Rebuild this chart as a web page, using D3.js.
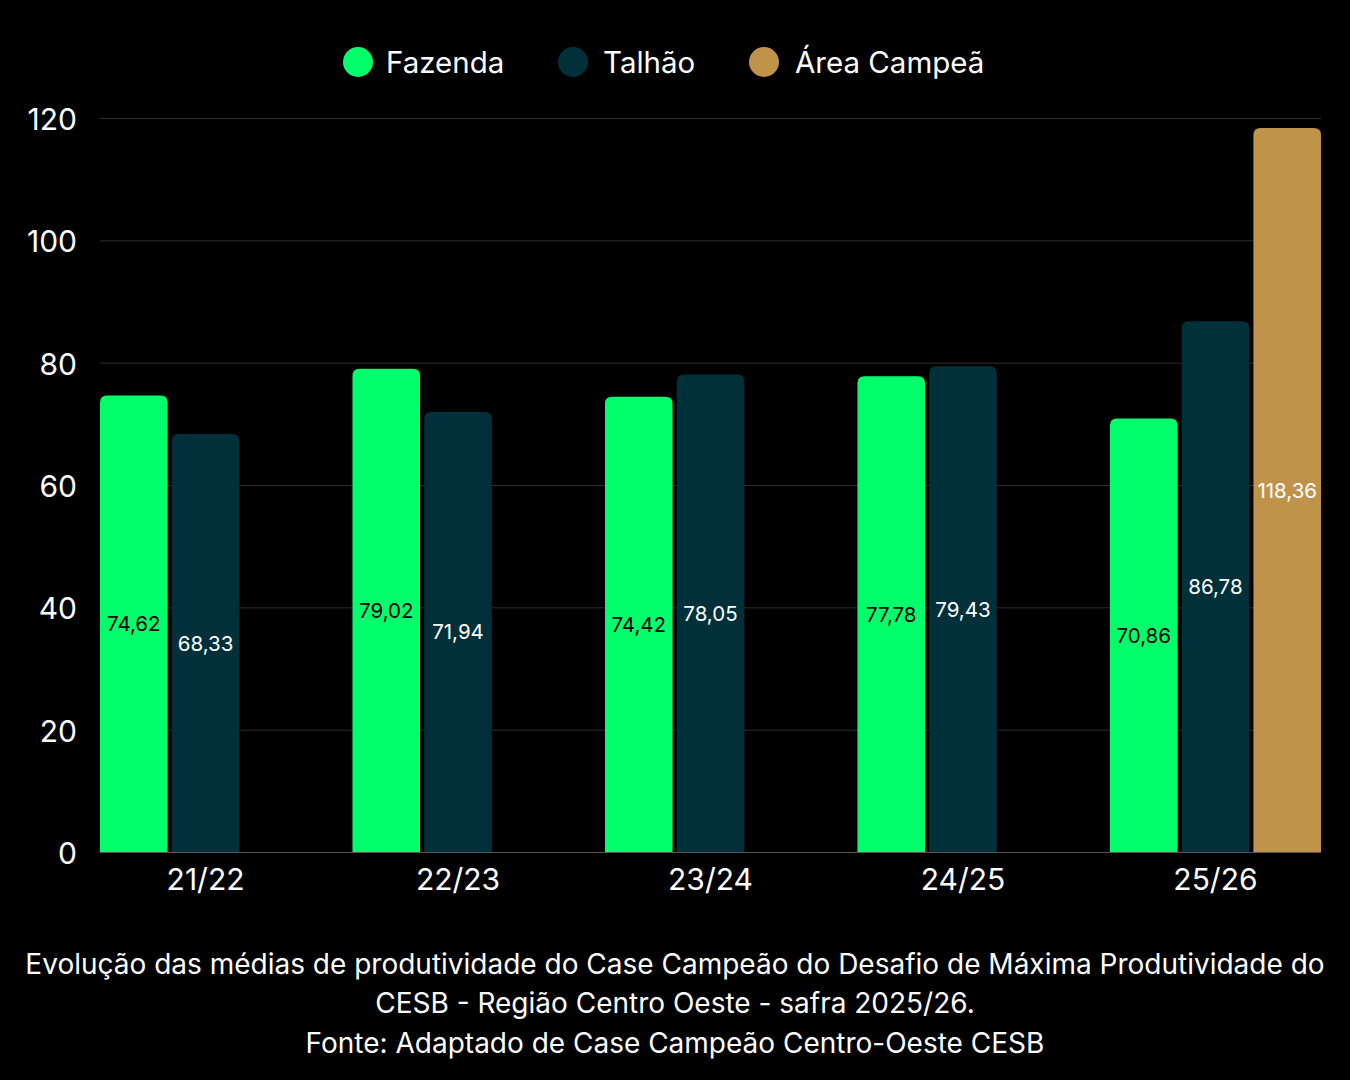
<!DOCTYPE html>
<html><head><meta charset="utf-8">
<script src="https://cdn.jsdelivr.net/npm/d3@7"></script>
<style>
html,body{margin:0;padding:0;background:#000;}
svg{display:block;font-family:Inter, "Noto Sans", sans-serif;}
</style></head>
<body>
<svg id="chart" width="1350" height="1080"></svg>
<script>
const categories = ["21/22","22/23","23/24","24/25","25/26"];
const seriesNames = ["Fazenda","Talhão","Área Campeã"];
const fazenda = [74.62, 79.02, 74.42, 77.78, 70.86];
const talhao = [68.33, 71.94, 78.05, 79.43, 86.78];
const areaCampea = [null, null, null, null, 118.36];
const yTicks = [0,20,40,60,80,100,120];
const captionLines = [
  "Evolução das médias de produtividade do Case Campeão do Desafio de Máxima Produtividade do",
  "CESB - Região Centro Oeste - safra 2025/26.",
  "Fonte: Adaptado de Case Campeão Centro-Oeste CESB"
];
const colors = ["#00ff6a", "#00313b", "#bf944a"];
const labelColors = ["#000000", "#ffffff", "#ffffff"];
const seriesValues = [fazenda, talhao, areaCampea];

(function(){
const svg = d3.select("#chart");
const pLeft = 100, pRight = 1321, pTop = 118, pBottom = 852;

const x0 = d3.scaleBand().domain(categories).range([pLeft, pRight]).paddingInner(0.164).paddingOuter(0);
const x1 = d3.scaleBand().domain(seriesNames).range([0, x0.bandwidth()]).paddingInner(0.058);
const y = d3.scaleLinear().domain([0,120]).range([pBottom, pTop]);

// grid
const grid = svg.append("g");
grid.selectAll("line").data(yTicks).join("line")
  .attr("x1", pLeft).attr("x2", pRight)
  .attr("y1", d=>y(d)+0.5).attr("y2", d=>y(d)+0.5)
  .attr("stroke", d=> d===0 ? "#555" : "#2e2e2e").attr("stroke-width", 1);

// y axis
const yAxis = svg.append("g").attr("transform", `translate(${pLeft},0)`)
  .call(d3.axisLeft(y).tickValues(yTicks).tickSize(0).tickPadding(23).tickFormat(d3.format("d")));
yAxis.select(".domain").remove();
yAxis.selectAll("text").attr("fill","#fff").attr("dy","0.38em").style("font-size","30px").style("font-family","Inter");

// x axis
const xAxis = svg.append("g").attr("transform", `translate(0,${pBottom})`)
  .call(d3.axisBottom(x0).tickSize(0).tickPadding(17));
xAxis.select(".domain").remove();
xAxis.selectAll("text").attr("fill","#fff").style("font-size","30px").style("font-family","Inter");

function topRounded(x, yTop, w, h, r){
  r = Math.min(r, h, w/2);
  return `M${x},${yTop+h} L${x},${yTop+r} Q${x},${yTop} ${x+r},${yTop} L${x+w-r},${yTop} Q${x+w},${yTop} ${x+w},${yTop+r} L${x+w},${yTop+h} Z`;
}

const data = [];
categories.forEach((c,i)=>{
  seriesNames.forEach((s,j)=>{
    const v = seriesValues[j][i];
    if (v !== null && v !== undefined) data.push({c, s, j, v});
  });
});

const bars = svg.append("g");
bars.selectAll("path").data(data).join("path")
  .attr("d", d=>{
    const xx = x0(d.c) + x1(d.s);
    return topRounded(xx, y(d.v), x1.bandwidth(), y(0)-y(d.v), 7);
  })
  .attr("fill", d=>colors[d.j]);

const fmt = v => v.toFixed(2).replace(".", ",");
bars.selectAll("text").data(data).join("text")
  .attr("x", d=> x0(d.c) + x1(d.s) + x1.bandwidth()/2)
  .attr("y", d=> (y(d.v)+y(0))/2)
  .attr("text-anchor","middle").attr("dominant-baseline","central")
  .attr("fill", d=>labelColors[d.j])
  .style("font-size","20.5px")
  .text(d=>fmt(d.v));

// legend
const legendItems = [
  {name: seriesNames[0], cx: 358, tx: 386},
  {name: seriesNames[1], cx: 573, tx: 603},
  {name: seriesNames[2], cx: 764, tx: 795}
];
const lg = svg.append("g");
legendItems.forEach((it,i)=>{
  lg.append("circle").attr("cx", it.cx).attr("cy", 62).attr("r", 15).attr("fill", colors[i]);
  lg.append("text").attr("x", it.tx).attr("y", 62).attr("dominant-baseline","central")
    .attr("fill","#fff").style("font-size","29.5px").text(it.name);
});

// caption
const cy = [964, 1003, 1043];
svg.append("g").selectAll("text").data(captionLines).join("text")
  .attr("x", 675).attr("y", (d,i)=>cy[i])
  .attr("text-anchor","middle").attr("dominant-baseline","central")
  .attr("fill","#fff").style("font-size","28px").text(d=>d);
})();
</script>
</body></html>
